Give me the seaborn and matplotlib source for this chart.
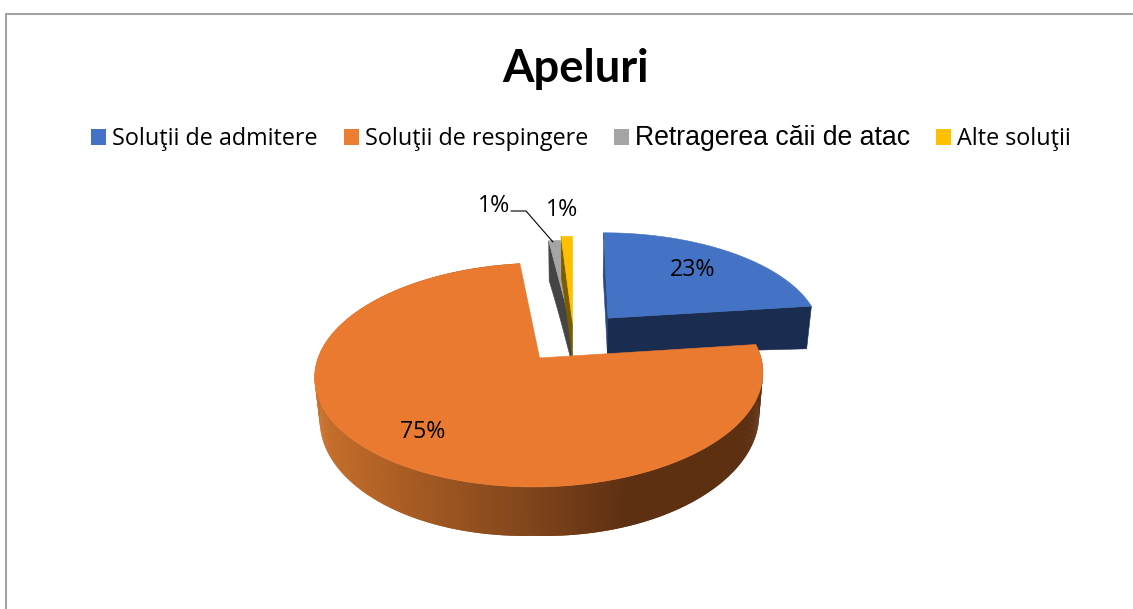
import numpy as np
import matplotlib
matplotlib.use("Agg")
import matplotlib.pyplot as plt
from matplotlib.patches import Patch
import seaborn as sns

# ---- data ----
categories = ["Soluţii de admitere", "Soluţii de respingere", "Retragerea căii de atac", "Alte soluţii"]
values = [23, 75, 1, 1]
title = "Apeluri"

# ---- style ----
top_colors = ["#4472c4", "#ea7a30", "#a5a5a5", "#ffc000"]
legend_colors = ["#4472c4", "#ed7d31", "#a5a5a5", "#ffc000"]
wall_colors = ["#1a2c50", "#5e3012", "#444444", "#7a5c00"]
explode = [0.25, 0.25, 0.09, 0.14]
legend_fonts = ["Open Sans", "Open Sans", "Liberation Sans", "Open Sans"]
legend_sizes = [16.8, 16.8, 19.2, 16.8]
label_pos = [(693, 270), (423, 432), (494, 206), (562, 210)]

sns.set_theme(style="white")
plt.rcParams["font.family"] = ["Open Sans", "DejaVu Sans"]

fig = plt.figure(figsize=(11.33, 6.09), dpi=100, facecolor="white")
ax = fig.add_axes([0, 0, 1, 1])
ax.set_xlim(0, 1133)
ax.set_ylim(609, 0)
ax.axis("off")

# ---- perspective projection of the pie plane ----
VX, VY, RX, RY, K = 573.5, 358.0, 221.5, 109.4, 0.152
U0, V0 = 0.16, 0.198


def top_xy(u, v):
    s = 1.0 / (1.0 + K * v)
    return VX + RX * (u - U0) * s, VY - RY * v * s


def wall_xy(u, v):
    x, y = top_xy(u, v)
    depth = 34 + 6.5 * np.abs(u) + 7.6 * (v - 0.4) ** 2
    return VX + 0.98 * (x - VX), y + depth


edges = 2 * np.pi * np.concatenate([[0], np.cumsum(values)]) / np.sum(values)


def wedge_geo(i):
    a0, a1 = edges[i], edges[i + 1]
    mid = (a0 + a1) / 2
    cu = U0 + explode[i] * np.sin(mid)
    cv = V0 + explode[i] * np.cos(mid)
    th = np.linspace(a0, a1, max(8, int(np.degrees(a1 - a0) * 2)))
    return cu, cv, th, cu + np.sin(th), cv + np.cos(th)


def radial_wall(i, end, color, z):
    cu, cv, th, au, av = wedge_geo(i)
    k = 0 if end == "start" else -1
    t = np.linspace(0, 1, 20)
    uu, vv = cu + (au[k] - cu) * t, cv + (av[k] - cv) * t
    tx, ty = top_xy(uu, vv)
    bx, by = wall_xy(uu, vv)
    ax.fill(np.r_[tx, bx[::-1]], np.r_[ty, by[::-1]], color=color, lw=0.4, zorder=z)


def top_face(i, z):
    cu, cv, th, au, av = wedge_geo(i)
    x, y = top_xy(np.r_[cu, au], np.r_[cv, av])
    ax.fill(x, y, color=top_colors[i], lw=0.4, zorder=z)


# gray wedge
radial_wall(2, "start", wall_colors[2], 2)
top_face(2, 3)
# yellow wedge
radial_wall(3, "start", wall_colors[3], 3.5)
top_face(3, 4)
# blue wedge
radial_wall(0, "start", "#2a4a85", 5)
radial_wall(0, "end", wall_colors[0], 5)
top_face(0, 6)

# orange wedge: curved wall with horizontal shading
cu, cv, th, au, av = wedge_geo(1)
shade = sns.blend_palette(["#c8702b", "#a55a22", "#83471c", "#5e3012"], 128)
n = len(th)
for j in range(n - 1):
    tx, ty = top_xy(au[j:j + 3], av[j:j + 3])
    bx, by = wall_xy(au[j:j + 3], av[j:j + 3])
    f = np.clip((tx[0] - 315) / (625 - 315), 0, 1)
    c = shade[int(f * 127)]
    ax.fill(np.r_[tx, bx[::-1]], np.r_[ty, by[::-1]], color=c, lw=0, zorder=7 + j * 1e-4 if tx[0] > 500 else 7 + (n - j) * 1e-4)
top_face(1, 8)

# leader line for the gray wedge label
ax.plot([511, 526, 553], [211, 211, 242], color="black", lw=0.8, zorder=9)

# data labels
for v, (x, y) in zip(values, label_pos):
    ax.text(x, y, f"{v}%", ha="center", va="center", fontsize=16.7,
            color="black", zorder=10)

# title
ax.text(575, 69, title, ha="center", va="center", fontsize=32.7,
        fontweight="bold", family="Lato", color="black")

# legend
handles = [Patch(facecolor=c, edgecolor="none") for c in legend_colors]
leg = ax.legend(handles, categories, ncol=4, loc="center", frameon=False,
                bbox_to_anchor=(581 / 1133, 1 - 138 / 609),
                handlelength=0.66, handleheight=0.66, handletextpad=0.27,
                columnspacing=1.12, fontsize=16.5, borderpad=0, borderaxespad=0)
for t, fam, size in zip(leg.get_texts(), legend_fonts, legend_sizes):
    t.set_fontfamily(fam)
    t.set_fontsize(size)
    t.set_color("black")

# chart frame
ax.plot([6, 6, 1133], [609, 14, 14], color="#a3a3a3", lw=1.5, zorder=1,
        solid_joinstyle="miter")

fig.savefig("out.png", dpi=100, facecolor="white")
